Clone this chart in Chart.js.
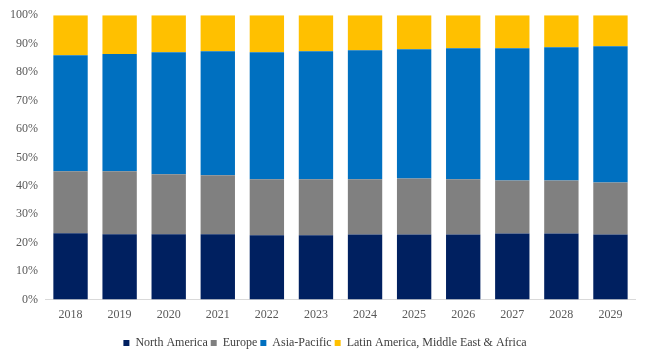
<!DOCTYPE html>
<html>
<head>
<meta charset="utf-8">
<script src="https://cdn.jsdelivr.net/npm/chart.js@4"></script>
<style>
  html, body { margin: 0; padding: 0; background: #fff; }
  #wrap { width: 650px; height: 361px; position: relative; }
</style>
</head>
<body>
<div id="wrap"><canvas id="shareChart"></canvas></div>
<script>
// Regional share by year (percent of total)
const years = ["2018", "2019", "2020", "2021", "2022", "2023", "2024", "2025", "2026", "2027", "2028", "2029"];
const northAmerica = [23.3, 23.0, 23.0, 23.0, 22.6, 22.6, 22.9, 22.9, 22.9, 23.2, 23.2, 22.9];
const europe = [21.8, 22.1, 21.1, 20.7, 19.7, 19.7, 19.4, 19.7, 19.4, 18.7, 18.7, 18.3];
const asiaPacific = [40.8, 41.3, 42.9, 43.6, 44.7, 45.0, 45.4, 45.4, 46.1, 46.5, 46.8, 47.9];
const lamea = [14.1, 13.6, 13.0, 12.7, 13.0, 12.7, 12.3, 12.0, 11.6, 11.6, 11.3, 10.9];
const yTicks = [0, 10, 20, 30, 40, 50, 60, 70, 80, 90, 100];

const serif = "'Liberation Serif', 'Times New Roman', serif";

function bar(label, data, color) {
    return {
        label: label,
        data: data,
        backgroundColor: color,
        borderWidth: 0,
        barPercentage: 0.7,
        categoryPercentage: 1.0
    };
}

// legend sits centred on the whole page, not on the padded area
const centerLegend = {
    id: "centerLegend",
    afterLayout: chart => { chart.legend.left += 13; }
};

new Chart(document.getElementById("shareChart"), {
    type: "bar",
    data: {
        labels: years,
        datasets: [
            bar("North America", northAmerica, "#002060"),
            bar("Europe", europe, "#808080"),
            bar("Asia-Pacific", asiaPacific, "#0070C0"),
            bar("Latin America, Middle East & Africa", lamea, "#FFC000")
        ]
    },
    options: {
        responsive: true,
        maintainAspectRatio: false,
        animation: false,
        layout: { padding: { top: 8, right: 15, left: 2, bottom: 2 } },
        plugins: {
            legend: {
                position: "bottom",
                labels: {
                    font: { family: serif, size: 12 },
                    color: "#404040",
                    boxWidth: 6,
                    boxHeight: 6,
                    padding: 3
                }
            },
            tooltip: { enabled: false }
        },
        scales: {
            x: {
                stacked: true,
                grid: { display: false, drawTicks: false },
                border: { display: true, color: "#d9d9d9" },
                ticks: {
                    font: { family: serif, size: 12 },
                    color: "#595959",
                    padding: 8
                },
                // extra room between the year labels and the legend
                afterFit: axis => { axis.height += 4; }
            },
            y: {
                stacked: true,
                min: 0,
                max: 100,
                afterBuildTicks: axis => { axis.ticks = yTicks.map(v => ({ value: v })); },
                grid: { display: false, drawTicks: false },
                border: { display: false },
                ticks: {
                    font: { family: serif, size: 12 },
                    color: "#595959",
                    padding: 8,
                    callback: value => value + "%"
                }
            }
        }
    },
    plugins: [centerLegend]
});
</script>
</body>
</html>
